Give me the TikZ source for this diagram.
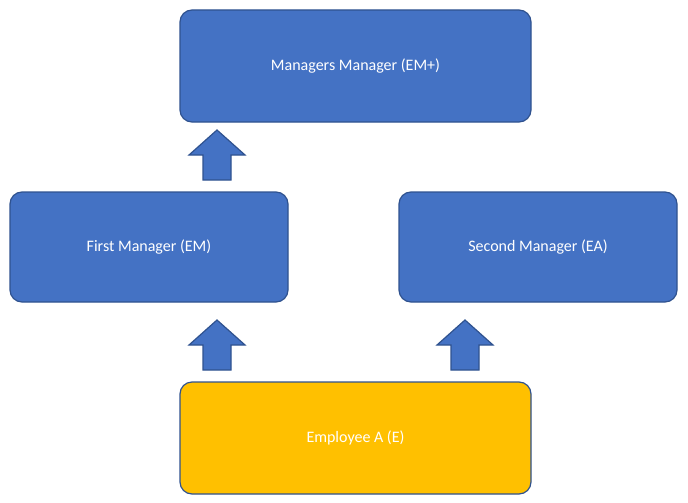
\documentclass[tikz,border=0pt]{standalone}
\usepackage{fontspec}
\setmainfont{Carlito}
\usetikzlibrary{positioning}
\definecolor{boxblue}{HTML}{4472C4}
\definecolor{boxedge}{HTML}{2F528F}
\definecolor{boxgold}{HTML}{FFC000}
\tikzset{
  rolebox/.style={draw=boxedge, line width=1.2pt, fill=boxblue, rounded corners=12pt,
    text=white, font=\fontsize{16}{19}\selectfont, inner sep=0pt},
  empbox/.style={rolebox, fill=boxgold},
  uparrow/.style={draw=boxedge, line width=1.2pt, fill=boxblue}
}
\newcommand{\blockup}[2]{% centre x, top y
  \draw[uparrow] (#1,#2) -- (#1+28,#2+25) -- (#1+14,#2+25) -- (#1+14,#2+50)
    -- (#1-14,#2+50) -- (#1-14,#2+25) -- (#1-28,#2+25) -- cycle;}
\begin{document}
\begin{tikzpicture}[x=1pt,y=-1pt]
  \useasboundingbox (0,0) rectangle (688,503);
  \node[rolebox, minimum width=351pt, minimum height=112pt] (top) at (355.5,66) {Managers Manager (EM+)};
  \node[rolebox, minimum width=278pt, minimum height=110pt] (first) at (149,247) {First Manager (EM)};
  \node[rolebox, minimum width=278pt, minimum height=110pt] (second) at (538,247) {Second Manager (EA)};
  \node[empbox, minimum width=351pt, minimum height=112pt, text=white] (emp) at (355.5,438) {Employee A (E)};
  \blockup{217}{130}
  \blockup{217}{320}
  \blockup{465}{320}
\end{tikzpicture}
\end{document}
